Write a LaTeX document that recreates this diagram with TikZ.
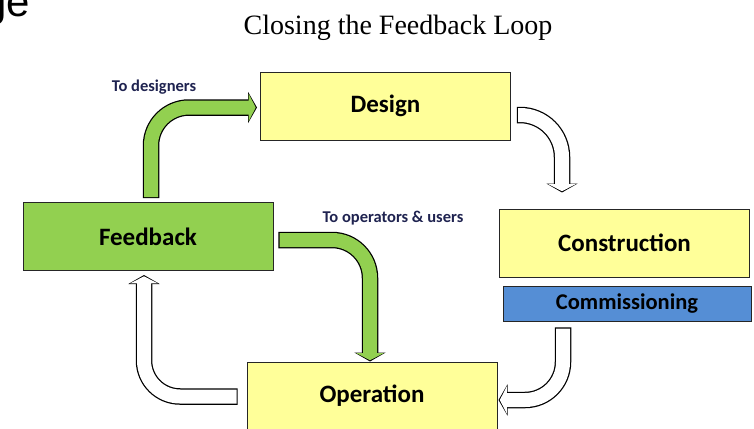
\documentclass[tikz,border=0pt]{standalone}
\usepackage{fontspec}
\setmainfont{Liberation Serif}
\newfontfamily\labelfont{Carlito}
\newfontfamily\slidefont{Liberation Sans}
\usetikzlibrary{arrows.meta,positioning}
\definecolor{boxyellow}{HTML}{FFFF99}
\definecolor{fbgreen}{HTML}{92D050}
\definecolor{commblue}{HTML}{558ED5}
\definecolor{notenavy}{HTML}{1F2350}
\begin{document}
\begin{tikzpicture}[x=1pt,y=-1pt,
  stage/.style={draw=black!85,line width=1pt,fill=boxyellow,minimum width=250pt,
    minimum height=68pt,inner sep=0pt,font=\labelfont\bfseries\fontsize{25}{25}\selectfont},
  note/.style={text=notenavy,inner sep=0pt,font=\labelfont\bfseries\fontsize{16.5}{16.5}\selectfont},
  pipe/.style={line width=14pt,draw=#1,-{Triangle[width=27pt,length=7pt]},shorten >=1.3pt,
    preaction={draw=black,line width=16.5pt,-{Triangle[width=31pt,length=9pt]},
      shorten >=0pt,shorten <=-1.2pt}},
  pipe/.default=white]
\useasboundingbox (0,0) rectangle (754,428);
\node[anchor=base east,inner sep=0pt,font=\slidefont\fontsize{42}{42}\selectfont] (slidetitle) at (30,17) {ge};
\node[font=\fontsize{28}{28}\selectfont] (title) at (398,28) {Closing the Feedback Loop};
\node[stage] (design) at (385.5,106) {Design};
\node[stage,fill=fbgreen] (feedback) at (148,236.5) {Feedback};
\node[stage] (construction) at (624.5,243) {Construction};
\node[stage,fill=commblue,minimum width=248pt,minimum height=35pt,
  font=\labelfont\bfseries\fontsize{22.5}{22.5}\selectfont] (commissioning) at (627,303.5) {Commissioning};
\node[stage] (operation) at (372,396) {Operation};
\node[note] (todesigners) at (154,87) {To designers};
\node[note] (tooperators) at (393,218) {To operators \& users};
\draw[pipe=fbgreen,rounded corners=38pt] ([xshift=3pt,yshift=5pt]feedback.north)
  |- ([xshift=-3pt,yshift=-1.5pt]design.west);
\draw[pipe=fbgreen,rounded corners=38pt] ([xshift=6pt,yshift=-3.5pt]feedback.east)
  -| ([xshift=-2pt]operation.north);
\draw[pipe,rounded corners=42pt] ([xshift=7pt,yshift=-9pt]design.east)
  -| ([xshift=-62.5pt,yshift=16pt]construction.north);
\draw[pipe,rounded corners=38pt] ([xshift=-64pt,yshift=-7pt]commissioning.south)
  |- ([xshift=1pt,yshift=-4pt]operation.east);
\draw[pipe,rounded corners=36pt] ([xshift=-10pt,yshift=-0.5pt]operation.west)
  -| ([xshift=-4pt,yshift=-4pt]feedback.south);
\end{tikzpicture}
\end{document}
